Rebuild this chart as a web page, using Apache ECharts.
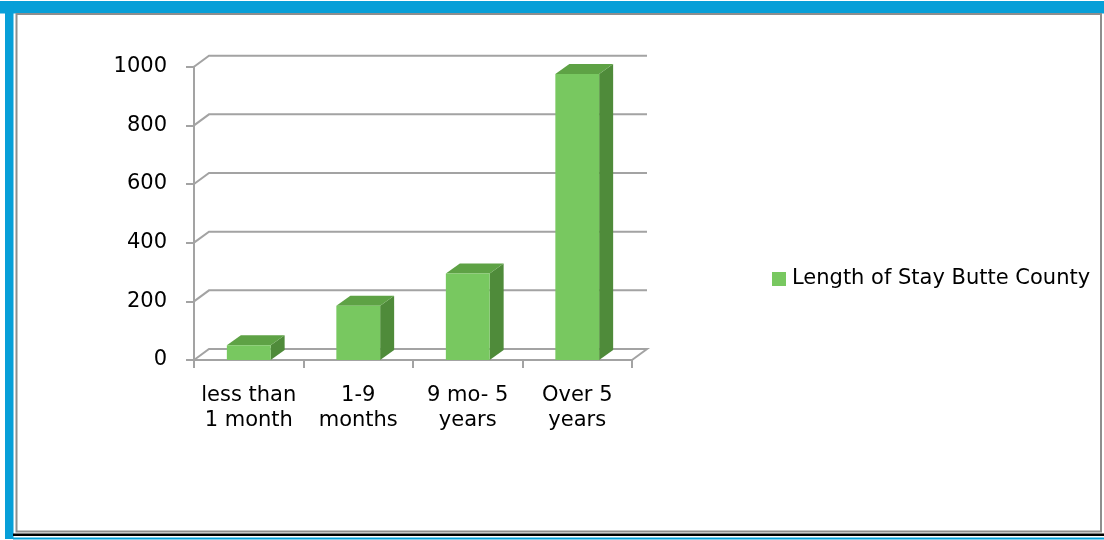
<!DOCTYPE html>
<html>
<head>
<meta charset="utf-8">
<script src="https://cdn.jsdelivr.net/npm/echarts@6/dist/echarts.min.js"></script>
<style>
  html, body { margin: 0; padding: 0; background: #fff; }
  #chart { position: absolute; left: 0; top: 0; width: 1104px; height: 540px; }
</style>
</head>
<body>
<div id="chart"></div>
<script>
// ---- data ----
const categories = ['less than\n1 month', '1-9\nmonths', '9 mo- 5\nyears', 'Over 5\nyears'];
const seriesName = 'Length of Stay Butte County';
const values = [50, 185, 295, 975];
const yTicks = [0, 200, 400, 600, 800, 1000];

// ---- style constants ----
const FONT = 'DejaVu Sans';
const GRID_COLOR = '#a3a3a3';
const FRONT = '#78c860';
const TOP = '#5ea245';
const SIDE = '#4f8b3a';
const WALL_DX = 15, WALL_DY = -11;
const BAR_DX = 14, BAR_DY = -10;

const chart = echarts.init(document.getElementById('chart'), null, { renderer: 'canvas' });

const option = {
  animation: false,
  backgroundColor: '#ffffff',
  graphic: [
    { type: 'rect', shape: { x: 0, y: 1, width: 1104, height: 12.5 }, style: { fill: '#079fd8' }, silent: true },
    { type: 'rect', shape: { x: 5, y: 1, width: 8.5, height: 538 }, style: { fill: '#079fd8' }, silent: true },
    { type: 'rect', shape: { x: 13, y: 533.5, width: 1091, height: 2.5 }, style: { fill: '#000000' }, silent: true },
    { type: 'rect', shape: { x: 13, y: 537.5, width: 1091, height: 2 }, style: { fill: '#079fd8' }, silent: true },
    { type: 'rect', shape: { x: 16.5, y: 14, width: 1084.5, height: 517.5 },
      style: { fill: 'none', stroke: '#8e8e8e', lineWidth: 2 }, silent: true }
  ],
  legend: {
    data: [seriesName],
    left: 767,
    top: 262,
    icon: 'rect',
    itemWidth: 14,
    itemHeight: 14,
    itemGap: 10,
    textStyle: { fontFamily: FONT, fontSize: 21, color: '#000', lineHeight: 24, padding: [0, 0, 0, 1] },
    selectedMode: false
  },
  grid: { left: 194, top: 66.7, width: 438, height: 293.3 },
  xAxis: {
    type: 'category',
    data: categories,
    axisLine: { show: true, lineStyle: { color: GRID_COLOR, width: 2 } },
    axisTick: { show: true, length: 8, lineStyle: { color: GRID_COLOR, width: 2 } },
    axisLabel: { interval: 0, margin: 23, fontFamily: FONT, fontSize: 21, lineHeight: 25, color: '#000' },
    splitLine: { show: false }
  },
  yAxis: {
    type: 'value',
    min: 0, max: 1000, interval: 200,
    axisLine: { show: true, lineStyle: { color: GRID_COLOR, width: 2 } },
    axisTick: { show: true, length: 8, lineStyle: { color: GRID_COLOR, width: 2 } },
    axisLabel: { margin: 27, fontFamily: FONT, fontSize: 21, color: '#000', formatter: v => String(v) },
    splitLine: { show: false }
  },
  series: [
    {
      type: 'custom',
      silent: true,
      z: 1,
      data: yTicks.map(v => [0, v]),
      renderItem: function (params, api) {
        const cs = params.coordSys;
        const y = api.coord([0, api.value(1)])[1];
        const x0 = cs.x, x1 = cs.x + cs.width;
        const pts = [[x0, y], [x0 + WALL_DX, y + WALL_DY], [x1 + WALL_DX, y + WALL_DY]];
        if (api.value(1) === 0) pts.push([x1, y]);
        return {
          type: 'polyline',
          shape: { points: pts },
          style: { stroke: GRID_COLOR, lineWidth: 2, fill: 'none' }
        };
      }
    },
    {
      name: seriesName,
      type: 'custom',
      z: 3,
      itemStyle: { color: FRONT },
      data: values.map((v, i) => [i, v]),
      renderItem: function (params, api) {
        const idx = api.value(0);
        const p0 = api.coord([idx, 0]);
        const p1 = api.coord([idx, api.value(1)]);
        const bw = api.size([1, 0])[0] * 0.4;
        const l = p0[0] - bw / 2, r = p0[0] + bw / 2;
        const yt = p1[1], yb = p0[1];
        return {
          type: 'group',
          children: [
            { type: 'polygon', shape: { points: [[r, yt], [r + BAR_DX, yt + BAR_DY], [r + BAR_DX, yb + BAR_DY], [r, yb]] },
              style: { fill: SIDE } },
            { type: 'polygon', shape: { points: [[l, yt], [r, yt], [r + BAR_DX, yt + BAR_DY], [l + BAR_DX, yt + BAR_DY]] },
              style: { fill: TOP } },
            { type: 'rect', shape: { x: l, y: yt, width: bw, height: yb - yt },
              style: { fill: FRONT } }
          ]
        };
      }
    }
  ]
};
chart.setOption(option);
</script>
</body>
</html>
